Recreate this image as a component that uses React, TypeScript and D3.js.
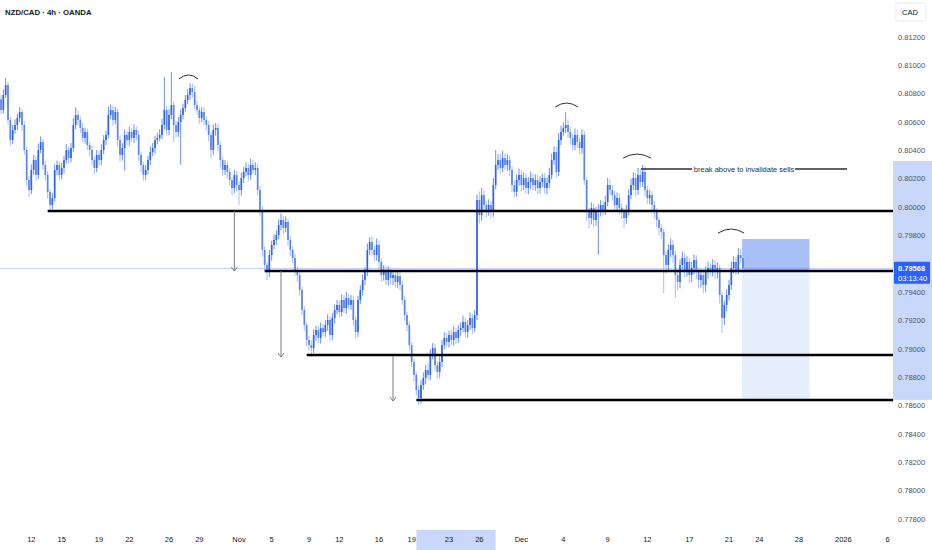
import React from 'react';
import * as d3 from 'd3';

// NZD/CAD 4h closes (one per bar)
const closes = [
  0.80685, 0.80791, 0.80861, 0.80615, 0.80473, 0.80544, 0.80579, 0.80629, 0.80671, 0.80579,
  0.80403, 0.80191, 0.80121, 0.80262, 0.80332, 0.80227, 0.80403, 0.80459, 0.80297, 0.80227,
  0.80107, 0.80015, 0.80064, 0.80262, 0.80297, 0.80227, 0.80276, 0.80332, 0.80403, 0.80346,
  0.80417, 0.80579, 0.80650, 0.80615, 0.80558, 0.80488, 0.80530, 0.80438, 0.80403, 0.80332,
  0.80276, 0.80368, 0.80332, 0.80403, 0.80473, 0.80509, 0.80650, 0.80685, 0.80615, 0.80671,
  0.80473, 0.80368, 0.80417, 0.80509, 0.80473, 0.80530, 0.80488, 0.80544, 0.80509, 0.80368,
  0.80297, 0.80227, 0.80262, 0.80332, 0.80389, 0.80417, 0.80473, 0.80488, 0.80509, 0.80579,
  0.80685, 0.80544, 0.80650, 0.80720, 0.80579, 0.80530, 0.80600, 0.80650, 0.80699, 0.80756,
  0.80791, 0.80840, 0.80812, 0.80720, 0.80685, 0.80629, 0.80671, 0.80615, 0.80579, 0.80509,
  0.80403, 0.80544, 0.80558, 0.80438, 0.80332, 0.80262, 0.80297, 0.80248, 0.80191, 0.80135,
  0.80227, 0.80156, 0.80121, 0.80205, 0.80248, 0.80276, 0.80227, 0.80297, 0.80262, 0.80276,
  0.80121, 0.79980, 0.79698, 0.79592, 0.79542, 0.79662, 0.79733, 0.79768, 0.79803, 0.79874,
  0.79909, 0.79853, 0.79895, 0.79768, 0.79698, 0.79641, 0.79556, 0.79521, 0.79415, 0.79274,
  0.79168, 0.79063, 0.79027, 0.79006, 0.79098, 0.79133, 0.79077, 0.79147, 0.79119, 0.79168,
  0.79204, 0.79098, 0.79218, 0.79274, 0.79310, 0.79260, 0.79345, 0.79288, 0.79359, 0.79310,
  0.79345, 0.79204, 0.79119, 0.79345, 0.79415, 0.79486, 0.79542, 0.79698, 0.79754, 0.79698,
  0.79662, 0.79733, 0.79613, 0.79521, 0.79556, 0.79486, 0.79542, 0.79500, 0.79521, 0.79472,
  0.79514, 0.79451, 0.79345, 0.79239, 0.79168, 0.79027, 0.78907, 0.78816, 0.78710, 0.78653,
  0.78745, 0.78795, 0.78851, 0.78816, 0.78957, 0.79006, 0.78886, 0.78837, 0.78907, 0.79027,
  0.79077, 0.79049, 0.79098, 0.79063, 0.79119, 0.79077, 0.79133, 0.79147, 0.79190, 0.79119,
  0.79168, 0.79218, 0.79147, 0.79239, 0.80050, 0.79944, 0.80085, 0.80015, 0.79980, 0.80015,
  0.79966, 0.80156, 0.80297, 0.80332, 0.80276, 0.80346, 0.80297, 0.80332, 0.80262, 0.80156,
  0.80107, 0.80191, 0.80227, 0.80156, 0.80205, 0.80135, 0.80177, 0.80205, 0.80156, 0.80191,
  0.80135, 0.80177, 0.80205, 0.80135, 0.80170, 0.80227, 0.80332, 0.80389, 0.80248, 0.80473,
  0.80530, 0.80558, 0.80579, 0.80530, 0.80488, 0.80438, 0.80509, 0.80459, 0.80417, 0.80509,
  0.80191, 0.79966, 0.79923, 0.79994, 0.79909, 0.79966, 0.79980, 0.80015, 0.79980, 0.80036,
  0.80156, 0.80121, 0.80085, 0.80015, 0.80064, 0.79994, 0.79966, 0.79923, 0.79980, 0.80085,
  0.80156, 0.80205, 0.80121, 0.80227, 0.80177, 0.80248, 0.80121, 0.80064, 0.80085, 0.80015,
  0.79966, 0.79909, 0.79853, 0.79825, 0.79662, 0.79592, 0.79698, 0.79733, 0.79662, 0.79521,
  0.79472, 0.79592, 0.79641, 0.79556, 0.79613, 0.79521, 0.79571, 0.79627, 0.79542, 0.79486,
  0.79521, 0.79451, 0.79542, 0.79571, 0.79556, 0.79592, 0.79542, 0.79571, 0.79380, 0.79218,
  0.79310, 0.79380, 0.79451, 0.79571, 0.79613, 0.79556, 0.79662, 0.79641, 0.79568,
];
const firstOpen = 0.8076;

// wick lengths in 1e-5 (pipettes)
const upperWicks = [
  30, 40, 50, 25, 20, 35, 40, 30, 35, 20, 25, 20, 30, 40, 35, 25, 45, 40, 20, 30,
  25, 20, 35, 40, 30, 25, 35, 30, 40, 25, 35, 50, 55, 30, 25, 35, 30, 25, 20, 30,
  25, 35, 30, 40, 35, 30, 60, 40, 30, 35, 25, 30, 35, 40, 30, 35, 30, 40, 25, 30,
  25, 20, 35, 30, 40, 35, 30, 35, 40, 45, 233, 30, 40, 233, 25, 30, 35, 40, 30, 35,
  40, 35, 30, 45, 30, 25, 35, 30, 25, 30, 25, 40, 35, 30, 25, 20, 35, 30, 25, 20,
  35, 30, 25, 40, 35, 40, 30, 45, 35, 40, 30, 25, 30, 25, 20, 35, 30, 40, 35, 40,
  45, 30, 40, 25, 30, 25, 30, 25, 20, 20, 25, 20, 30, 35, 40, 30, 35, 40, 30, 35,
  40, 30, 35, 40, 35, 30, 40, 35, 45, 30, 35, 30, 25, 30, 35, 40, 35, 45, 35, 40,
  30, 45, 30, 25, 35, 30, 40, 30, 35, 30, 40, 25, 30, 25, 20, 25, 20, 25, 20, 30,
  35, 40, 35, 45, 40, 35, 30, 25, 40, 35, 40, 35, 30, 35, 40, 30, 35, 40, 45, 30,
  35, 40, 30, 35, 40, 60, 50, 35, 30, 40, 30, 50, 106, 40, 45, 50, 35, 40, 30, 25,
  30, 40, 45, 35, 40, 30, 35, 45, 30, 40, 35, 40, 30, 35, 40, 50, 45, 40, 35, 50,
  45, 40, 92, 40, 35, 30, 45, 40, 30, 40, 25, 20, 30, 40, 30, 35, 40, 35, 30, 45,
  50, 40, 35, 30, 40, 35, 30, 25, 35, 40, 45, 40, 35, 50, 40, 50, 40, 30, 35, 25,
  30, 25, 20, 25, 20, 25, 40, 45, 35, 30, 25, 40, 45, 35, 40, 30, 45, 40, 35, 30,
  40, 35, 40, 45, 35, 40, 35, 40, 25, 20, 30, 40, 35, 45, 40, 35, 50, 45, 30,
];
const lowerWicks = [
  30, 25, 20, 35, 40, 30, 25, 35, 30, 40, 35, 40, 50, 30, 35, 40, 30, 25, 35, 40,
  45, 50, 30, 25, 35, 40, 30, 35, 25, 40, 30, 25, 30, 40, 35, 30, 40, 35, 45, 40,
  45, 30, 40, 35, 30, 35, 25, 30, 40, 30, 45, 50, 40, 160, 35, 40, 30, 35, 40, 45,
  50, 40, 35, 30, 35, 30, 40, 30, 25, 30, 30, 40, 35, 30, 120, 40, 35, 300, 30, 25,
  30, 35, 40, 30, 35, 40, 30, 35, 40, 45, 60, 35, 40, 45, 50, 40, 35, 45, 40, 50,
  35, 45, 106, 40, 35, 30, 40, 35, 30, 35, 40, 45, 50, 40, 56, 35, 40, 30, 35, 30,
  35, 40, 30, 40, 45, 35, 40, 45, 40, 35, 40, 45, 40, 63, 35, 40, 35, 40, 30, 35,
  40, 45, 35, 40, 30, 35, 30, 35, 40, 30, 35, 40, 45, 35, 30, 40, 35, 30, 35, 40,
  45, 40, 50, 45, 40, 35, 40, 45, 50, 40, 45, 40, 35, 40, 45, 40, 35, 45, 40, 50,
  40, 35, 45, 40, 35, 30, 40, 45, 40, 35, 30, 35, 40, 35, 40, 45, 35, 40, 30, 35,
  40, 35, 45, 30, 35, 60, 40, 45, 50, 40, 45, 35, 30, 35, 40, 30, 35, 40, 45, 50,
  40, 35, 40, 45, 35, 40, 45, 50, 35, 40, 45, 40, 35, 40, 45, 35, 30, 35, 40, 30,
  35, 30, 35, 40, 45, 40, 35, 40, 45, 40, 35, 60, 70, 45, 50, 40, 303, 45, 40, 35,
  30, 35, 40, 45, 40, 45, 50, 70, 40, 35, 30, 35, 40, 35, 40, 35, 45, 40, 45, 50,
  45, 50, 55, 50, 268, 60, 45, 50, 55, 160, 60, 45, 40, 50, 45, 55, 50, 45, 50, 60,
  55, 60, 50, 45, 40, 45, 50, 45, 60, 106, 50, 45, 40, 35, 40, 35, 30, 35, 30,
];

const priceTicks = [0.812, 0.81, 0.808, 0.806, 0.804, 0.802, 0.8, 0.798, 0.796, 0.794, 0.792, 0.79, 0.788, 0.786, 0.784, 0.782, 0.78, 0.778];
const timeTickIndex = [13, 26, 42, 55, 72, 85, 102, 116, 132, 145, 162, 176, 192, 205, 223, 241, 260, 277, 295, 312, 325, 342, 361, 380];
const timeTickLabels = ['12', '15', '19', '22', '26', '29', 'Nov', '5', '9', '12', '16', '19', '23', '26', 'Dec', '4', '9', '12', '17', '21', '24', '28', '2026', '6'];

const lastPrice = 0.79568;
const countdown = '03:13:40';

// drawn levels
const levelPrices = [0.79973, 0.79549, 0.78957, 0.7864];
const levelStart = [20, 113, 131, 178];

// arrows
const arrowIndex = [100, 120, 168];
const arrowFrom = [0.79973, 0.79549, 0.7895];
const arrowTo = [0.79549, 0.78943, 0.78632];

// arcs over tops
const arcStart = [76.3, 237.5, 266.6, 307.3];
const arcEnd = [84.4, 247.3, 278.6, 318.5];
const arcPrice = [0.80904, 0.80706, 0.80346, 0.79817];

// annotation
const noteText = 'break above to invalidate sells';
const notePrice = 0.80269;
const noteStart = 274.3;
const noteEnd = 362.6;

// position box
const boxStart = 317.6;
const boxEnd = 346.5;
const boxStop = 0.79775;
const boxEntry = 0.79556;
const boxTarget = 0.7864;

// highlighted axis ranges
const axisBandTop = 0.80325;
const axisBandBottom = 0.7864;
const timeBandStart = 178;
const timeBandEnd = 212;

const W = 932;
const H = 550;
const PLOT_R = 893;

export default function App() {
  const x = d3.scaleLinear().domain([0, 318]).range([1, 743]);
  const y = d3.scaleLinear().domain([0.778, 0.812]).range([519, 37]);
  const font = "'Liberation Sans', Arial, sans-serif";

  const candles = closes.map((c, i) => {
    const o = i === 0 ? firstOpen : closes[i - 1];
    const hi = Math.max(o, c) + upperWicks[i] * 1e-5;
    const lo = Math.min(o, c) - lowerWicks[i] * 1e-5;
    return { i, o, c, hi, lo, up: c >= o };
  });

  const arcPath = (k: number) => {
    const x1 = x(arcStart[k]);
    const x2 = x(arcEnd[k]);
    const yb = y(arcPrice[k]);
    return `M${x1},${yb} Q${(x1 + x2) / 2},${yb - 8} ${x2},${yb}`;
  };

  const xNote1 = x(noteStart);
  const xNote2 = x(noteEnd);
  const yNote = y(notePrice);
  const noteMid = (xNote1 + xNote2) / 2;
  const labelTop = y(lastPrice) - 6.5;

  const upBody = '#2f64ea';
  const downBody = '#5a85ee';
  const upWick = '#6a90f0';
  const downWick = '#a6bcf4';

  return (
    <svg width={W} height={H} style={{ position: 'absolute', left: 0, top: 0, background: '#fff' }}>
      <defs>
        <clipPath id="axisClip">
          <rect x={PLOT_R} y={0} width={W - PLOT_R} height={labelTop} />
          <rect x={PLOT_R} y={labelTop + 22} width={W - PLOT_R} height={H} />
        </clipPath>
      </defs>
      <rect x={0} y={0} width={W} height={H} fill="#ffffff" />

      {/* axis highlight bands */}
      <rect x={PLOT_R} y={y(axisBandTop)} width={W - PLOT_R} height={y(axisBandBottom) - y(axisBandTop)} fill="#c9d7fb" />
      <rect x={x(timeBandStart)} y={530} width={x(timeBandEnd) - x(timeBandStart)} height={20} fill="#c9d7fb" />

      {/* position box */}
      <rect x={x(boxStart)} y={y(boxStop)} width={x(boxEnd) - x(boxStart)} height={y(boxEntry) - y(boxStop)} fill="#a9c1f7" />
      <rect x={x(boxStart)} y={y(boxEntry)} width={x(boxEnd) - x(boxStart)} height={y(boxTarget) - y(boxEntry)} fill="#e6edfc" />

      {/* last price line */}
      <line x1={0} x2={PLOT_R} y1={y(lastPrice)} y2={y(lastPrice)} stroke="#2962ff" strokeOpacity={0.3} strokeWidth={1} />

      {/* candles */}
      <g>
        {candles.map((d) => (
          <line key={'w' + d.i} x1={x(d.i)} x2={x(d.i)} y1={y(d.hi)} y2={y(d.lo)} stroke={d.up ? upWick : downWick} strokeWidth={1} />
        ))}
        {candles.map((d) => {
          const top = y(Math.max(d.o, d.c));
          const h = Math.max(1, y(Math.min(d.o, d.c)) - top);
          return (
            <rect key={'b' + d.i} x={x(d.i) - 0.85} y={top} width={1.7} height={h} fill={d.up ? upBody : downBody} />
          );
        })}
      </g>

      {/* levels */}
      {levelPrices.map((p, k) => (
        <line key={'l' + k} x1={x(levelStart[k])} x2={PLOT_R} y1={y(p)} y2={y(p)} stroke="#000" strokeWidth={2.5} />
      ))}

      {/* arrows */}
      {arrowIndex.map((idx, k) => {
        const ax = x(idx);
        const y1 = y(arrowFrom[k]);
        const y2 = y(arrowTo[k]);
        return (
          <g key={'a' + k} stroke="#787b86" strokeWidth={1} fill="none">
            <line x1={ax} x2={ax} y1={y1} y2={y2} />
            <path d={`M${ax - 3},${y2 - 4} L${ax},${y2} L${ax + 3},${y2 - 4}`} />
          </g>
        );
      })}

      {/* arcs */}
      {arcStart.map((_, k) => (
        <path key={'arc' + k} d={arcPath(k)} fill="none" stroke="#2a2e39" strokeWidth={1} />
      ))}

      {/* annotation */}
      <line x1={xNote1} x2={noteMid - 52} y1={yNote} y2={yNote} stroke="#2a2e39" strokeWidth={1.3} />
      <line x1={noteMid + 51} x2={xNote2} y1={yNote} y2={yNote} stroke="#2a2e39" strokeWidth={1.3} />
      <text x={noteMid} y={yNote + 2.6} fontSize={7.5} fontFamily={font} fill="#2a2e39" textAnchor="middle">{noteText}</text>

      {/* right axis labels */}
      <g clipPath="url(#axisClip)">
        {priceTicks.map((p) => (
          <text key={'pt' + p} x={898} y={y(p) + 2.7} fontSize={7.5} fontFamily={font} fill="#50535e">{p.toFixed(5)}</text>
        ))}
      </g>

      {/* last price label */}
      <rect x={894} y={labelTop} width={36} height={22} fill="#2962ff" rx={1} />
      <text x={898} y={y(lastPrice) + 3} fontSize={7.5} fontFamily={font} fill="#fff" fontWeight={600}>{lastPrice.toFixed(5)}</text>
      <text x={898} y={y(lastPrice) + 13} fontSize={7.5} fontFamily={font} fill="#fff">{countdown}</text>

      {/* currency tag */}
      <rect x={896} y={3} width={30} height={18} fill="#fff" stroke="#e0e3eb" strokeWidth={0.8} rx={2} />
      <text x={902} y={15} fontSize={7.5} fontFamily={font} fill="#131722">CAD</text>

      {/* time axis labels */}
      {timeTickIndex.map((idx, k) => (
        <text key={'tt' + k} x={x(idx)} y={542} fontSize={7.5} fontFamily={font} fill="#131722" textAnchor="middle">{timeTickLabels[k]}</text>
      ))}

      {/* title */}
      <text x={5} y={15} fontSize={7.8} fontFamily={font} fontWeight={700} fill="#131722">NZD/CAD · 4h · OANDA</text>
    </svg>
  );
}
